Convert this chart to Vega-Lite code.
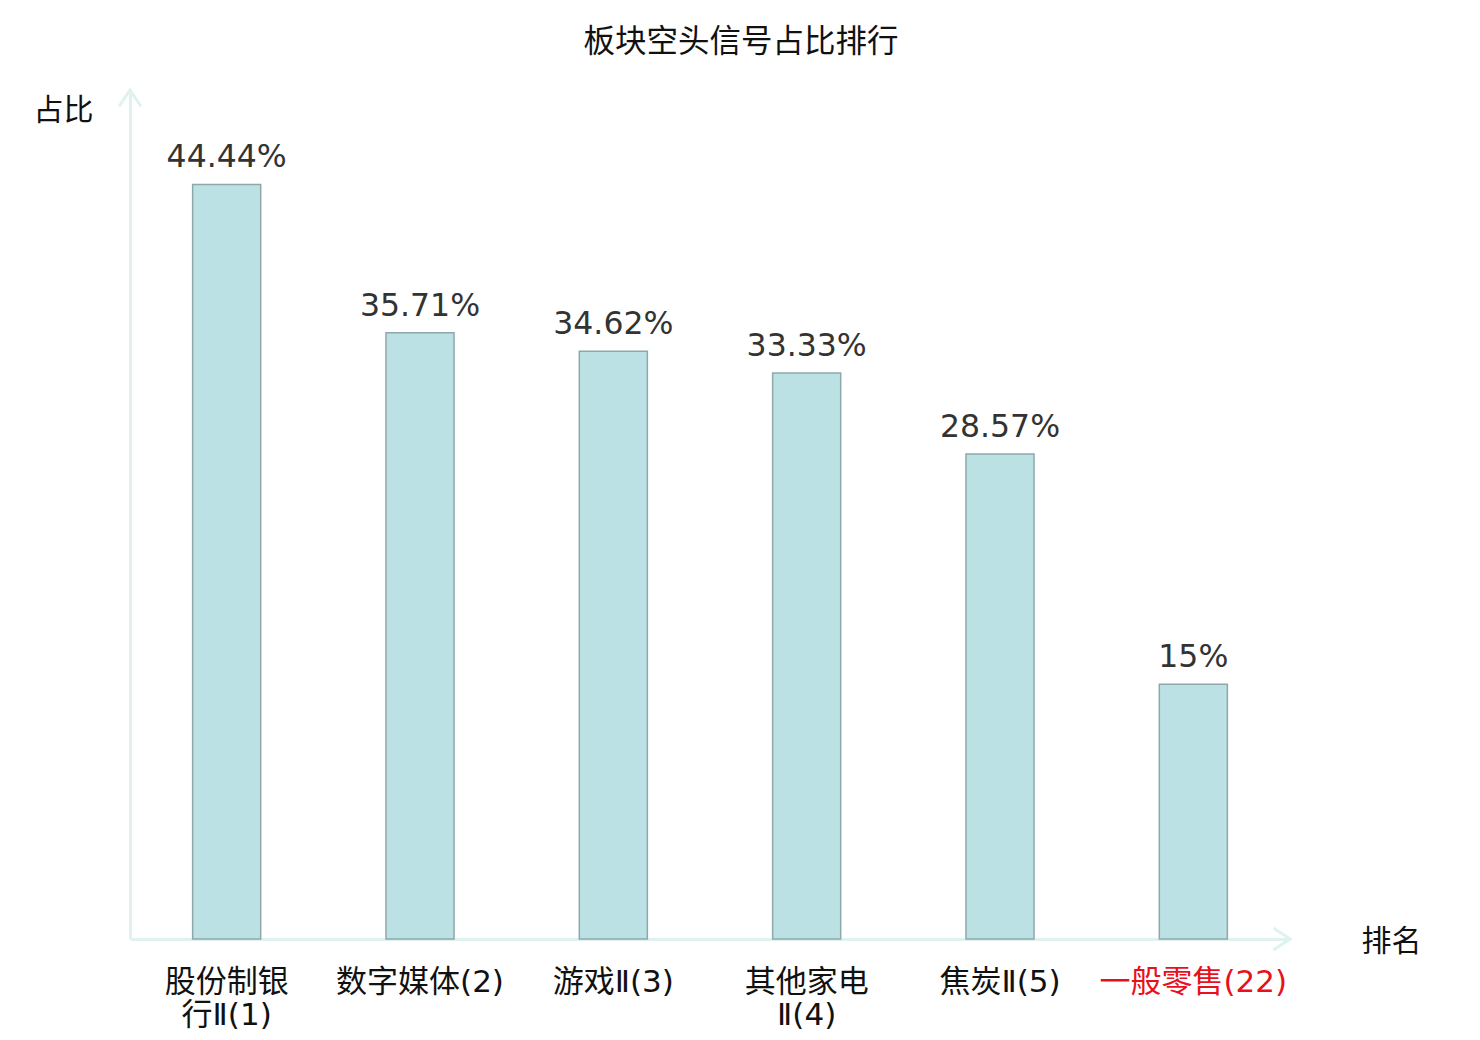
{
  "$schema": "https://vega.github.io/schema/vega-lite/v6.json",
  "autosize": "none",
  "width": 1160,
  "height": 849,
  "padding": {"left": 130, "top": 90, "right": 190, "bottom": 101},
  "background": "white",
  "title": {
    "text": "板块空头信号占比排行",
    "anchor": "middle",
    "dx": 31,
    "offset": 26,
    "font": "Noto Sans CJK SC",
    "fontSize": 31.5,
    "fontWeight": "normal",
    "color": "#111111"
  },
  "datasets": {
    "sectors": [
      {"name": "股份制银|行Ⅱ(1)", "share": 44.44, "label": "44.44%"},
      {"name": "数字媒体(2)", "share": 35.71, "label": "35.71%"},
      {"name": "游戏Ⅱ(3)", "share": 34.62, "label": "34.62%"},
      {"name": "其他家电|Ⅱ(4)", "share": 33.33, "label": "33.33%"},
      {"name": "焦炭Ⅱ(5)", "share": 28.57, "label": "28.57%"},
      {"name": "一般零售(22)", "share": 15, "label": "15%"}
    ],
    "corner": [{"k": 1}]
  },
  "layer": [
    {
      "data": {"name": "sectors"},
      "mark": {
        "type": "bar",
        "width": {"band": 0.352},
        "fill": "#bce1e4",
        "stroke": "#8ea8aa",
        "strokeWidth": 1.5
      },
      "encoding": {
        "x": {
          "field": "name",
          "type": "nominal",
          "sort": null,
          "scale": {"paddingInner": 0, "paddingOuter": 0},
          "axis": {
            "title": "排名",
            "titleFont": "Noto Sans CJK SC",
            "titleFontSize": 30,
            "titleFontWeight": "normal",
            "titleColor": "#111111",
            "titleX": 1261,
            "titleY": 2,
            "titleAlign": "center",
            "titleBaseline": "middle",
            "labelExpr": "split(datum.value, '|')",
            "labelAngle": 0,
            "labelFont": "'DejaVu Sans', 'Noto Sans CJK SC'",
            "labelFontSize": 31,
            "labelLineHeight": 33,
            "labelPadding": 28,
            "labelBaseline": "top",
            "labelLimit": 400,
            "labelOverlap": false,
            "labelColor": {
              "condition": {"test": "datum.value == '一般零售(22)'", "value": "#e8101a"},
              "value": "#111111"
            },
            "ticks": false,
            "domainColor": "#dff2ef",
            "domainWidth": 3
          }
        },
        "y": {
          "field": "share",
          "type": "quantitative",
          "scale": {"domain": [0, 50], "nice": false},
          "axis": {
            "title": "占比",
            "titleFont": "Noto Sans CJK SC",
            "titleFontSize": 30,
            "titleFontWeight": "normal",
            "titleColor": "#111111",
            "titleAngle": 0,
            "titleX": -67,
            "titleY": 20,
            "titleAlign": "center",
            "titleBaseline": "middle",
            "labels": false,
            "ticks": false,
            "grid": false,
            "domainColor": "#dff2ef",
            "domainWidth": 3
          }
        }
      }
    },
    {
      "data": {"name": "sectors"},
      "mark": {
        "type": "text",
        "baseline": "alphabetic",
        "dy": -17,
        "font": "DejaVu Sans",
        "fontSize": 31.5,
        "fill": "#333333"
      },
      "encoding": {
        "x": {"field": "name", "type": "nominal", "sort": null},
        "y": {"field": "share", "type": "quantitative"},
        "text": {"field": "label"}
      }
    },
    {
      "data": {"name": "corner"},
      "mark": {
        "type": "point",
        "shape": "M -1.5 -1 L 0 0 L -1.5 1",
        "filled": false,
        "size": 484,
        "stroke": "#dff2ef",
        "strokeWidth": 3,
        "opacity": 1
      },
      "encoding": {
        "x": {"value": "width"},
        "y": {"datum": 0, "type": "quantitative"}
      }
    },
    {
      "data": {"name": "corner"},
      "mark": {
        "type": "point",
        "shape": "M -1 1.5 L 0 0 L 1 1.5",
        "filled": false,
        "size": 484,
        "stroke": "#dff2ef",
        "strokeWidth": 3,
        "opacity": 1
      },
      "encoding": {
        "x": {"value": 0},
        "y": {"datum": 50, "type": "quantitative"}
      }
    }
  ],
  "config": {
    "view": {"stroke": null},
    "font": "Noto Sans CJK SC"
  }
}
